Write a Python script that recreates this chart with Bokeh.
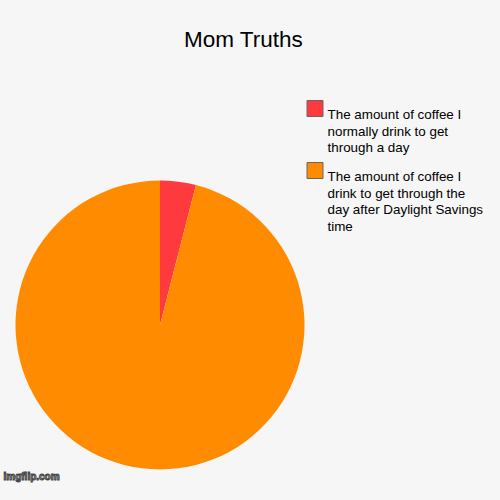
import numpy as np
from bokeh.plotting import figure
from bokeh.models import Range1d, ColumnDataSource
from bokeh.core.properties import value
from bokeh.embed import file_html
from bokeh.resources import INLINE

# ---- data ----
title = "Mom Truths"
labels = [
    "The amount of coffee I normally drink to get through a day",
    "The amount of coffee I drink to get through the day after Daylight Savings time",
]
label_lines = [
    ["The amount of coffee I", "normally drink to get", "through a day"],
    ["The amount of coffee I", "drink to get through the", "day after Daylight Savings", "time"],
]
values = [4, 96]
colors = ["#ff3a3f", "#ff8c00"]
watermark = "imgflip.com"

W = H = 484
BG = "#f6f6f6"
FONT = "Liberation Sans"

p = figure(width=W, height=H, output_backend="svg", toolbar_location=None,
           x_range=Range1d(0, W), y_range=Range1d(0, H), min_border=0,
           background_fill_color=BG, border_fill_color=BG, outline_line_color=None)
p.axis.visible = False
p.grid.visible = False

# picture pixels (from top-left) -> data
def Y(py):
    return H - py

def X(px):
    return px

# pie
cx, cy, r = X(159.5), Y(324.5), 144.5
frac = np.array(values, dtype=float) / np.sum(values)
ends = np.cumsum(frac) * 2 * np.pi
starts = np.concatenate([[0.0], ends[:-1]])
src = ColumnDataSource(dict(
    start=np.pi / 2 - starts,
    end=np.pi / 2 - ends,
    color=colors,
))
p.wedge(x=cx, y=cy, radius=r, start_angle="start", end_angle="end",
        direction="clock", fill_color="color", line_color=None, source=src)

# title
p.text(x=[X(243)], y=[Y(38.5)], text=[title], text_font=value(FONT),
       text_font_size="22.5px", text_color="#000000", text_align="center",
       text_baseline="alphabetic")

# legend
box_tops = [100, 162]
lh = 16.7
sx = -3
for i, lines in enumerate(label_lines):
    top = box_tops[i]
    p.rect(x=[X(317.5 + sx)], y=[Y(top + 8)], width=16, height=16,
           fill_color=colors[i], line_color="#666666", line_width=1)
    xs = [X(330 + sx)] * len(lines)
    ys = [Y(top + 14 + k * lh) for k in range(len(lines))]
    p.text(x=xs, y=ys, text=lines, text_font=value(FONT), text_font_size="13.4px",
           text_color="#000000", text_align="left", text_baseline="alphabetic")

# watermark
p.text(x=[X(3)], y=[Y(476)], text=[watermark], text_font=value(FONT),
       text_font_size="10px", text_font_style="bold", text_color="#dddddd",
       text_align="left", text_baseline="alphabetic",
       text_outline_color="#444444")

html = file_html(p, INLINE)
html = html.replace("<head>", "<head><style>html,body{background:#f6f6f6;}</style>", 1)
open("out.html", "w").write(html)
